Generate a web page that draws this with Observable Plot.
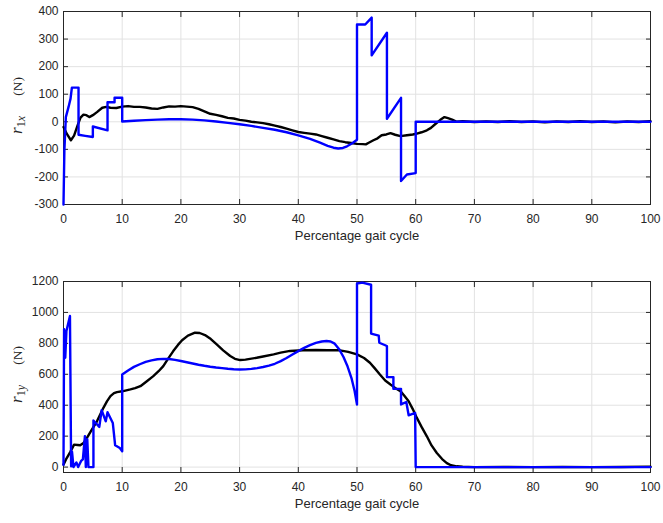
<!DOCTYPE html>
<html><head><meta charset="utf-8">
<script src="https://cdn.jsdelivr.net/npm/d3@7"></script>
<script src="https://cdn.jsdelivr.net/npm/@observablehq/plot@0.6"></script>
<style>body{margin:0;background:#fff} svg{display:block}</style>
</head><body><div id="c"></div>
<script>
const xTicks = [0,10,20,30,40,50,60,70,80,90,100];
const yTicksTop = [-300,-200,-100,0,100,200,300,400];
const yTicksBottom = [0,200,400,600,800,1000,1200];
const xTitle = "Percentage gait cycle";

// r1x — black (reference)
const blackTopX = [0,0.6,1.26,1.8,2.4,2.9,3.4,3.9,4.4,5.0,5.7,6.6,7.3,8.0,9.0,10,11,12,13,14,15,16,17,18,19,20,21,22,23,24,25,26,27,28,29,30,31,32,33,34,35,36,37,38,39,40,41,42,43,44,45,46,47,48,49,50,51,51.5,52,52.8,53.5,54.2,55,55.7,56.5,57.4,58.5,59.5,60.2,61,61.9,62.6,63.3,64.2,64.9,65.5,66.2,67,68,70,72,74,76,78,80,82,84,86,88,90,92,94,96,98,100];
const blackTopY = [-19,-45,-67,-50,-13,15,26,24,17,24,35,51,54,51,50,55,57,54,54,52,48,47,52,56,55,57,55,53,47,38,29,25,20,14,12,7,4,0,-2,-5,-9,-14,-19,-25,-31,-37,-40,-43,-46,-52,-58,-64,-70,-74,-77,-80,-81,-82,-76,-67,-60,-49,-46,-41,-47,-52,-49,-46,-43,-38,-31,-22,-9,7,17,13,8,0,2,-1,1,-1,2,-1,1,-2,1,-1,2,-1,1,-2,1,-1,2];
// r1x — blue (computed)
const blueTopX = [0,0.15,0.4,0.85,1.2,1.43,2.56,2.56,3.7,5.0,5.0,7.5,7.5,8.7,8.7,10.0,10.0,12,14,16,18,20,22,24,26,28,30,32,34,36,38,40,42,43.7,45,46,46.8,47.6,48.3,49.2,50,50,51.4,52.5,52.5,55.1,55.1,57.5,57.5,58.5,60,60,100];
const blueTopY = [-300,-104,17,53,84,124,124,-47,-51,-55,-17,-31,71,71,87,87,1,4,6,8,9,9,8,5,1,-4,-9,-15,-22,-29,-38,-49,-62,-76,-87,-94,-97,-95,-89,-78,-65,353,353,378,241,323,11,87,-215,-191,-186,0,0];

// r1y — black (reference)
const blackBotX = [0,0.5,1.14,1.8,2.4,2.85,3.4,3.97,4.8,5.7,6.8,7.4,8.0,8.6,9.1,10,11.4,12.2,13.1,14.2,15.3,16.2,17,17.8,18.7,19.5,20.2,21.2,22.4,23.2,24.1,25.1,26.1,27.2,28.4,29.2,30.1,31,32.9,34,35.8,37,38.6,40.8,43,45,47.1,48.5,50,51.2,52.2,53,53.9,54.8,55.7,56.5,57.4,58.1,58.8,59.5,60.2,61,61.9,62.7,63.6,64.5,65.3,66,67,68,70,75,80,85,90,95,100];
const blackBotY = [16,55,97,145,143,141,155,188,240,296,383,425,459,478,485,490,502,510,523,555,588,620,653,700,750,790,820,850,869,867,854,828,794,755,718,700,692,695,707,715,729,740,751,755,757,755,755,745,729,705,675,640,599,560,534,512,491,460,426,375,318,260,199,140,91,52,26,12,5,2,0,1,0,1,0,1,3];
// r1y — blue (computed)
const blueBotX = [0,0.1,0.3,0.5,1.1,1.3,1.45,1.7,2.2,2.5,3.0,3.3,3.65,3.8,4.05,4.25,5.1,5.1,6.1,6.5,7.2,7.5,8.4,8.8,9.6,10,10,11,12,13,14,15,16,17,18,19,20,21,22,23,24,25,26,27,28,29,30,31,32,33,34,35,36,37,38,39,40,41,42,43,44,44.8,45.5,46.2,47,47.7,48.4,49.1,49.6,50,50,50.9,52.4,52.4,53.7,53.8,55.1,55.1,56.2,56.2,57.5,57.5,58.4,58.8,59.9,60,100];
const blueBotY = [15,891,707,880,977,5,100,0,30,0,40,50,200,0,180,0,0,301,260,368,296,355,285,141,123,102,599,625,648,665,680,690,697,700,699,693,686,678,670,662,655,649,644,640,636,633,631,632,635,640,647,656,668,685,705,728,750,771,789,803,812,815,812,798,760,712,650,570,490,405,1187,1193,1179,863,850,804,783,582,582,506,506,405,421,335,350,0,0];

const ink = "#262626";
const fontSans = "'Liberation Sans', Arial, Helvetica, sans-serif";
const fontSerif = "'Liberation Serif', 'Times New Roman', serif";
const svgNS = "http://www.w3.org/2000/svg";

function panel({height, marginTop, marginBottom, yDomain, yTicks, bx, by, ux, uy}) {
  return Plot.plot({
    width: 663, height, marginLeft: 63, marginRight: 13, marginTop, marginBottom,
    style: {fontFamily: fontSans, fontSize: "12px", color: ink, background: "#fff", overflow: "visible"},
    x: {domain: [0, 100], label: null},
    y: {domain: yDomain, label: null},
    marks: [
      Plot.gridX(xTicks, {stroke: "#e2e2e2", strokeOpacity: 1}),
      Plot.gridY(yTicks, {stroke: "#e2e2e2", strokeOpacity: 1}),
      Plot.frame({stroke: ink, strokeWidth: 1}),
      Plot.axisX(xTicks, {anchor: "bottom", tickSize: -5, tickPadding: 15, stroke: ink, fill: ink, tickFormat: d => String(d)}),
      Plot.axisX(xTicks, {anchor: "top", tickSize: -5, tickFormat: () => "", stroke: ink}),
      Plot.axisY(yTicks, {anchor: "left", tickSize: -5, tickPadding: 10, stroke: ink, fill: ink, tickFormat: d => String(d)}),
      Plot.axisY(yTicks, {anchor: "right", tickSize: -5, tickFormat: () => "", stroke: ink}),
      Plot.text([xTitle], {frameAnchor: "bottom", dy: 35, text: d => d, fontSize: 13, fill: ink}),
      Plot.line(by, {x: bx, y: by, stroke: "#000000", strokeWidth: 2.4}),
      Plot.line(uy, {x: ux, y: uy, stroke: "#0000ff", strokeWidth: 2.4})
    ]
  });
}

function addLabel(chart, sub) {
  const ys = chart.scale("y").range;
  const cy = (ys[0] + ys[1]) / 2 - 2;
  const g = document.createElementNS(svgNS, "g");
  g.setAttribute("transform", `translate(21.5,${cy}) rotate(-90)`);
  const t = document.createElementNS(svgNS, "text");
  t.setAttribute("text-anchor", "middle");
  t.setAttribute("font-family", fontSerif);
  t.setAttribute("fill", ink);
  const parts = [
    {txt: "r", size: 17, italic: true},
    {txt: "1", size: 12, dy: 3.5},
    {txt: sub, size: 12, italic: true},
    {txt: "\u2003\u2002(N)", size: 13.5, dy: -3.5}
  ];
  for (const p of parts) {
    const s = document.createElementNS(svgNS, "tspan");
    s.setAttribute("font-size", p.size);
    if (p.italic) s.setAttribute("font-style", "italic");
    if (p.dy) s.setAttribute("dy", p.dy);
    s.textContent = p.txt;
    t.appendChild(s);
  }
  g.appendChild(t);
  chart.appendChild(g);
  return chart;
}

const c = document.getElementById("c");
c.appendChild(addLabel(panel({height: 250, marginTop: 11, marginBottom: 46, yDomain: [-300, 400], yTicks: yTicksTop,
  bx: blackTopX, by: blackTopY, ux: blueTopX, uy: blueTopY}), "x"));
c.appendChild(addLabel(panel({height: 273, marginTop: 31, marginBottom: 51, yDomain: [-35, 1200], yTicks: yTicksBottom,
  bx: blackBotX, by: blackBotY, ux: blueBotX, uy: blueBotY}), "y"));
</script></body></html>
